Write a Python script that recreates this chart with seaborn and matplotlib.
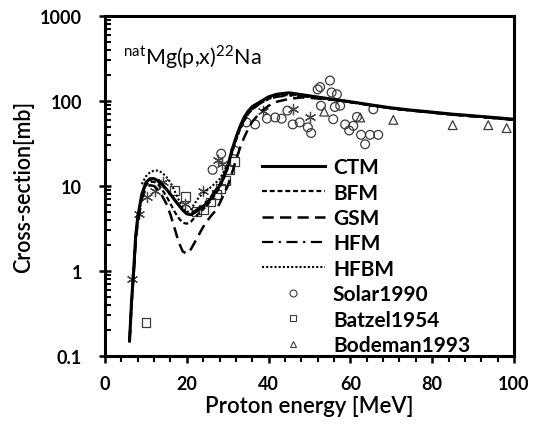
import numpy as np
import pandas as pd
import matplotlib
matplotlib.use('Agg')
import matplotlib.pyplot as plt
from matplotlib.lines import Line2D
from matplotlib.ticker import FixedLocator, FixedFormatter, LogLocator, NullFormatter, MultipleLocator
import seaborn as sns

# ── model curves ─────────────────────────────────────────────────────────────
e_ctm = [6, 6.5, 7, 7.5, 8, 9, 10, 11, 12, 13, 14, 15, 16, 17, 18, 19, 20, 21, 22, 24, 26,
         28, 29, 30, 31, 32, 33, 34, 35, 36, 38, 40, 42, 45, 50, 55, 60, 65, 70, 75, 80,
         85, 90, 95, 100]
s_ctm = [0.15, 0.45, 1.0, 2.6, 4.3, 8.0, 11, 12.2, 12.2, 11.5, 10.4, 9.2, 8.0, 6.9, 6.0, 5.2,
         4.7, 4.6, 4.9, 5.7, 7.2, 10, 12.5, 17, 26, 37, 50, 64, 76, 86, 98, 112, 120, 125,
         115, 106, 98, 90, 83, 78, 74, 70, 67, 64, 61]

e_bfm = [6, 6.5, 7, 7.5, 8, 9, 10, 11, 12, 13, 14, 15, 16, 17, 18, 19, 20, 21, 22, 24, 26,
         28, 30, 31, 32, 33, 34, 35, 36, 38, 40, 42, 45, 50, 55, 60, 65, 70, 75, 80, 85,
         90, 95, 100]
s_bfm = [0.15, 0.42, 0.95, 2.4, 4.0, 7.5, 10.2, 11.2, 11.2, 10.4, 9.0, 7.6, 6.2, 5.0, 4.2, 3.7,
         3.6, 3.8, 4.3, 5.3, 6.8, 9.5, 16, 24, 34, 46, 58, 70, 80, 94, 106, 113, 118,
         112, 104, 97, 89, 82, 77, 73, 69, 66, 63, 60]

e_gsm = [6, 6.5, 7, 7.5, 8, 9, 10, 11, 12, 13, 14, 15, 16, 17, 18, 19, 20, 21, 22, 23, 24,
         25, 26, 27, 28, 30, 31, 32, 33, 34, 35, 36, 38, 40, 42, 45, 48, 50, 55, 60, 65,
         70, 75, 80, 85, 90, 95, 100]
s_gsm = [0.15, 0.4, 0.9, 2.2, 3.7, 7.0, 9.4, 10.2, 10.0, 9.0, 7.6, 6.2, 4.6, 3.2, 2.2, 1.7,
         1.6, 1.8, 2.2, 2.7, 3.3, 3.9, 4.5, 5.1, 6.2, 10, 14, 20, 28, 37, 47, 57, 74, 88,
         98, 106, 110, 109, 104, 97, 89, 82, 77, 73, 69, 66, 63, 60]

e_hfm = [6, 6.5, 7, 7.5, 8, 9, 10, 11, 12, 13, 14, 15, 16, 17, 18, 19, 20, 21, 22, 24, 26,
         28, 30, 31, 32, 33, 34, 35, 36, 38, 40, 42, 45, 50, 55, 60, 65, 70, 75, 80, 85,
         90, 95, 100]
s_hfm = [0.15, 0.43, 0.95, 2.5, 4.1, 7.8, 10.5, 11.6, 11.8, 11.2, 10.2, 9.0, 7.8, 6.8, 5.9, 5.2,
         4.8, 4.8, 5.1, 6.0, 7.6, 10.5, 17, 25, 35, 47, 59, 70, 80, 94, 105, 112, 116,
         112, 105, 97, 89, 82, 77, 73, 69, 66, 63, 60]

e_hfbm = [9, 10, 11, 12, 13, 14, 15, 16, 17, 18, 19, 20, 21, 22, 23, 24, 26, 28, 30, 31, 32,
          33, 34, 35, 36, 38, 40, 42, 45, 50, 55, 60, 65, 70, 75, 80, 85, 90, 95, 100]
s_hfbm = [10.5, 13.0, 14.5, 15.2, 15.2, 14.3, 12.8, 11.0, 8.8, 6.9, 5.5, 4.9, 5.3, 6.3, 7.4, 8.2,
          9.8, 12, 18, 26, 36, 48, 60, 72, 82, 96, 108, 115, 120, 114, 106, 98, 90, 83, 78,
          74, 70, 67, 64, 61]

# ── experimental data ────────────────────────────────────────────────────────
e_solar = [26.3, 28.4, 31.8, 34.6, 36.7, 39.6, 41.6, 43.2, 44.6, 45.9, 47.6, 49.6, 50.4, 52.0,
           52.6, 52.8, 55.0, 55.4, 55.8, 56.2, 56.7, 57.5, 58.7, 59.7, 60.7, 61.6, 62.6,
           63.6, 64.8, 65.6, 66.8]
s_solar = [15.5, 24, 26, 56, 53, 62, 64, 62, 77, 53, 56, 49, 42, 137, 146, 88, 174, 126, 61,
           85, 120, 88, 53, 45, 51, 65, 40, 31, 40, 80, 40]

e_batzel = [10.0, 16.9, 19.6, 22.4, 24.0, 25.7, 27.3, 28.3, 29.5, 30.4, 31.6]
s_batzel = [0.25, 8.8, 7.6, 5.0, 5.3, 6.5, 8.0, 9.3, 11.7, 15.5, 19.5]

e_bodeman = [53.6, 62.4, 70.5, 85.0, 93.7, 98.2]
s_bodeman = [75, 64, 60, 52, 52, 48]

# unlabeled data set (asterisks)
e_other = [6.5, 8.3, 10.2, 12.2, 14.2, 19.6, 24.0, 27.6, 28.5, 38.6, 46.0, 50.0]
s_other = [0.8, 4.7, 7.4, 8.8, 11.0, 6.2, 8.8, 20, 18, 77, 80, 65]

models = ['CTM', 'BFM', 'GSM', 'HFM', 'HFBM']
curves = pd.concat([
    pd.DataFrame({'E': e, 'xs': s, 'model': m})
    for m, e, s in zip(models, [e_ctm, e_bfm, e_gsm, e_hfm, e_hfbm],
                       [s_ctm, s_bfm, s_gsm, s_hfm, s_hfbm])
], ignore_index=True)

dash_map = {'CTM': None, 'BFM': (2.2, 1.3), 'GSM': (4.5, 2.5),
            'HFM': (5, 2.5, 1, 2.5), 'HFBM': (1, 1)}
width_map = {'CTM': 2.2, 'BFM': 1.6, 'GSM': 1.8, 'HFM': 1.6, 'HFBM': 1.5}

plt.rcParams['font.family'] = ['Lato', 'DejaVu Sans']
plt.rcParams['mathtext.fontset'] = 'custom'
plt.rcParams['mathtext.rm'] = 'Lato'

fig = plt.figure(figsize=(5.35, 4.39), dpi=100)
ax = fig.add_axes([105 / 535, 1 - 357 / 439, 409 / 535, 340 / 439])

mk = dict(facecolors='none', edgecolors='#3a3a3a', linewidths=0.9, s=40, zorder=3)
sns.scatterplot(x=e_solar, y=s_solar, marker='o', ax=ax, legend=False, **mk)
sns.scatterplot(x=e_batzel, y=s_batzel, marker='s', ax=ax, legend=False, **mk)
sns.scatterplot(x=e_bodeman, y=s_bodeman, marker='^', ax=ax, legend=False, **mk)
ax.scatter(e_other, s_other, marker=(6, 2, 0), s=55, color='#444444', linewidths=0.9, zorder=3)

for m in models:
    sub = curves[curves['model'] == m]
    sns.lineplot(data=sub, x='E', y='xs', ax=ax, color='black',
                 lw=width_map[m], legend=False, zorder=4)
    if dash_map[m]:
        ax.lines[-1].set_dashes(dash_map[m])

ax.set_yscale('log')
ax.set_xlim(0, 100)
ax.set_ylim(0.1, 1000)

ax.yaxis.set_major_locator(FixedLocator([0.1, 1, 10, 100, 1000]))
ax.yaxis.set_major_formatter(FixedFormatter(['0.1', '1', '10', '100', '1000']))
ax.yaxis.set_minor_locator(LogLocator(base=10, subs=np.arange(2, 10)))
ax.yaxis.set_minor_formatter(NullFormatter())
ax.xaxis.set_major_locator(MultipleLocator(20))
ax.xaxis.set_minor_locator(MultipleLocator(4))

ax.tick_params(axis='y', which='major', direction='inout', length=9, width=1.8,
               labelsize=13, pad=12)
ax.tick_params(axis='y', which='minor', direction='in', length=4, width=1.5)
ax.tick_params(axis='x', which='major', direction='out', length=5, width=1.8,
               labelsize=13, pad=9)
ax.tick_params(axis='x', which='minor', direction='out', length=4, width=1.5)
for lab in ax.get_xticklabels() + ax.get_yticklabels():
    lab.set_fontweight('bold')

for sp in ax.spines.values():
    sp.set_linewidth(2.2)

ax.set_xlabel('Proton energy [MeV]', fontsize=16, fontweight='semibold', labelpad=2)
ax.set_ylabel('Cross-section[mb]', fontsize=15.5, fontweight='semibold', labelpad=4)

ax.text(0.045, 0.86, r'$^{\mathrm{nat}}$Mg(p,x)$^{22}$Na', transform=ax.transAxes,
        fontsize=15.5, ha='left', va='baseline')

handles = []
for m in models:
    h = Line2D([], [], color='black', lw=width_map[m])
    if dash_map[m]:
        h.set_dashes(dash_map[m])
    handles.append(h)
for mkr in ['o', 's', '^']:
    handles.append(Line2D([], [], ls='none', marker=mkr, mfc='none', mec='#3a3a3a',
                          mew=0.8, ms=5))
labels = models + ['Solar1990', 'Batzel1954', 'Bodeman1993']
ax.legend(handles, labels, loc='upper left', bbox_to_anchor=(0.384, 0.585),
          frameon=False, prop={'weight': 'bold', 'size': 15}, handlelength=3.0,
          handletextpad=0.4, labelspacing=0.26, borderpad=0, borderaxespad=0)

fig.savefig('out.png', dpi=100)
